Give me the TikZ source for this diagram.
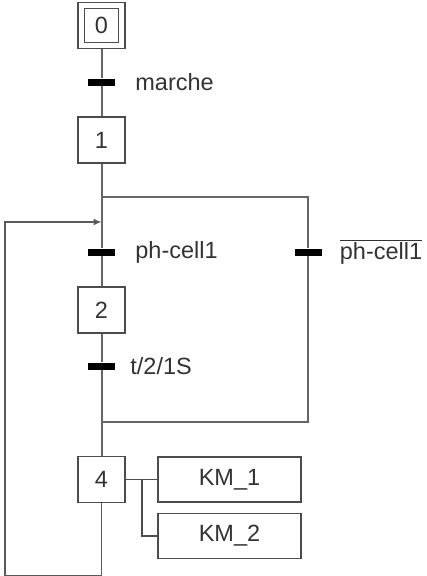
\documentclass[tikz,border=0pt]{standalone}
\usepackage{fontspec}
\setmainfont{Liberation Sans}
\usetikzlibrary{arrows.meta, positioning}

\begin{document}
\begin{tikzpicture}[
    x=1pt, y=-1pt,
    every node/.style={font=\fontsize{23.5}{27}\selectfont, text=black!80},
    stepbox/.style={rectangle, draw=black!70, line width=1.4pt, fill=white, minimum width=47pt, minimum height=46pt, inner sep=0pt},
    initbox/.style={rectangle, draw=black!70, line width=1.4pt, minimum width=34pt, minimum height=34pt, inner sep=0pt},
    bar/.style={rectangle, fill=black, minimum width=27pt, minimum height=7pt, inner sep=0pt},
    action/.style={rectangle, draw=black!70, line width=1.4pt, fill=white, minimum width=143pt, minimum height=45pt, inner sep=0pt},
    cond/.style={anchor=west, inner sep=0pt},
    link/.style={draw=black!60, line width=2pt},
    loop/.style={draw=black!65, line width=1.3pt, -{Latex[length=8pt, width=7pt]}}
]
\useasboundingbox (0,0) rectangle (426,576);

% Steps
\node[stepbox] (s0) at (101.5,25.5) {};
\node[initbox] (s0in) at (s0) {0};
\node[stepbox] (s1) at (101.5,140) {1};
\node[stepbox] (s2) at (101.5,310) {2};
\node[stepbox] (s4) at (101.5,479.5) {4};

% Transitions
\node[bar] (t0) at (101.5,82) {};
\node[bar] (t1) at (101.5,252) {};
\node[bar] (t1n) at (308,252) {};
\node[bar] (t2) at (101.5,366) {};

\node[cond, right=20pt of t0.east] (c0) {marche};
\node[cond, right=20pt of t1.east] (c1) {ph-cell1};
\node[cond, right=18pt of t1n.east] (c1n) {$\overline{\hbox{ph-cell1}}$};
\node[cond, right=15pt of t2.east] (c2) {t/2/1S};

% Actions of step 4
\node[action] (km1) at (229.5,479.5) {KM\_1};
\node[action] (km2) at (229.5,536) {KM\_2};

% Junction points
\coordinate (div) at (101.5,197);
\coordinate (divr) at (308,197);
\coordinate (conv) at (101.5,422);
\coordinate (convr) at (308,422);
\coordinate (back) at (101.5,222);
\coordinate (act) at (142,479.5);

% Sequence links
\draw[link] (s0.south) -- (t0.north);
\draw[link] (t0.south) -- (s1.north);
\draw[link] (s1.south) -- (div);
\draw[link] (div) -- (back) -- (t1.north);
\draw[link] (t1.south) -- (s2.north);
\draw[link] (s2.south) -- (t2.north);
\draw[link] (t2.south) -- (conv) -- (s4.north);
\draw[link] (div) -- (divr) -- (t1n.north);
\draw[link] (t1n.south) -- (convr) -- (conv);

% Return loop
\draw[loop] (s4.south) -- ++(0,72) -| (5,222) -- (back);

% Action links
\draw[draw=black!70, line width=1.4pt] (s4.east) -- (km1.west);
\draw[draw=black!70, line width=1.4pt] (act) |- (km2.west);

\end{tikzpicture}
\end{document}
